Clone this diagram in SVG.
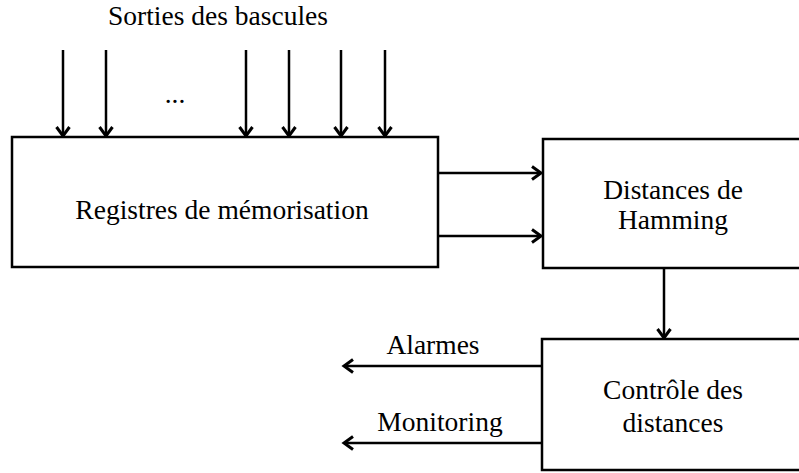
<svg xmlns="http://www.w3.org/2000/svg" width="799" height="473" viewBox="0 0 799 473">
<style>
.box{fill:#fff;stroke:#000;stroke-width:2.5}
.t{font-family:"Liberation Serif","Times New Roman",serif;font-size:27.5px;fill:#000;text-anchor:middle}
.c{stroke:#000;stroke-width:2.5;fill:none;marker-end:url(#a)}
</style>
<defs>
<marker id="a" markerWidth="16" markerHeight="16" viewBox="-12 -8 14 16" refX="0" refY="0" orient="auto" markerUnits="userSpaceOnUse">
<polyline points="-9,-6.5 0,0 -9,6.5" fill="none" stroke="#000" stroke-width="3"/>
</marker>
</defs>
<rect width="799" height="473" fill="#fff"/>
<text class="t" x="218" y="25">Sorties des bascules</text>
<text class="t" x="175" y="103">...</text>
<g id="connectors">
<line class="c" x1="63" y1="50" x2="63" y2="136"/>
<line class="c" x1="106" y1="50" x2="106" y2="136"/>
<line class="c" x1="246" y1="50" x2="246" y2="136"/>
<line class="c" x1="289" y1="50" x2="289" y2="136"/>
<line class="c" x1="341" y1="50" x2="341" y2="136"/>
<line class="c" x1="385" y1="50" x2="385" y2="136"/>
<line class="c" x1="438" y1="173" x2="541" y2="173"/>
<line class="c" x1="438" y1="236" x2="541" y2="236"/>
<line class="c" x1="664" y1="268" x2="664" y2="338"/>
<line class="c" x1="542" y1="366" x2="344" y2="366"/>
<line class="c" x1="542" y1="443" x2="344" y2="443"/>
<text class="t" x="433" y="354">Alarmes</text>
<text class="t" x="440" y="431">Monitoring</text>
</g>
<g id="registres">
<rect class="box" x="12" y="137" width="426" height="130"/>
<text class="t" x="222" y="219">Registres de mémorisation</text>
</g>
<g id="hamming">
<rect class="box" x="543" y="139" width="262" height="129"/>
<text class="t" x="673" y="199">Distances de</text>
<text class="t" x="673" y="229">Hamming</text>
</g>
<g id="controle">
<rect class="box" x="542" y="339" width="263" height="131"/>
<text class="t" x="673" y="399">Contrôle des</text>
<text class="t" x="673" y="432">distances</text>
</g>
</svg>
